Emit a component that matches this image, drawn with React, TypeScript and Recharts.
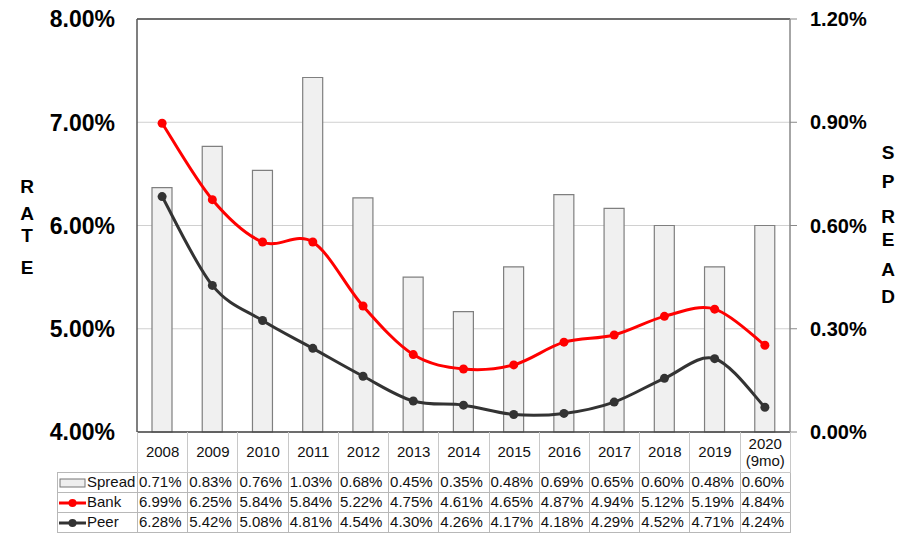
import React from 'react';
import { ComposedChart, Bar, Line, XAxis, YAxis, CartesianGrid, ReferenceLine } from 'recharts';

const years = ['2008', '2009', '2010', '2011', '2012', '2013', '2014', '2015', '2016', '2017', '2018', '2019', '2020 (9mo)'];
const spread = [0.71, 0.83, 0.76, 1.03, 0.68, 0.45, 0.35, 0.48, 0.69, 0.65, 0.6, 0.48, 0.6];
const bank = [6.99, 6.25, 5.84, 5.84, 5.22, 4.75, 4.61, 4.65, 4.87, 4.94, 5.12, 5.19, 4.84];
const peer = [6.28, 5.42, 5.08, 4.81, 4.54, 4.3, 4.26, 4.17, 4.18, 4.29, 4.52, 4.71, 4.24];
const rateTicks = [4, 5, 6, 7, 8];
const spreadTicks = [0, 0.3, 0.6, 0.9, 1.2];

const data = years.map((year, i) => ({ year, spread: spread[i], bank: bank[i], peer: peer[i] }));

const FONT = '"Liberation Sans", Arial, sans-serif';
const BANK_COLOR = '#ff0000';
const PEER_COLOR = '#333333';

// excel-style smoothed line (bezier through points, 1/6 of neighbour span)
const smoothCurve = (context: any) => {
  let pts: number[][] = [];
  return {
    areaStart() {},
    areaEnd() {},
    lineStart() { pts = []; },
    point(x: number, y: number) { pts.push([+x, +y]); },
    lineEnd() {
      if (!pts.length) return;
      context.moveTo(pts[0][0], pts[0][1]);
      for (let i = 0; i < pts.length - 1; i++) {
        const p0 = pts[i - 1] || pts[i];
        const p1 = pts[i];
        const p2 = pts[i + 1];
        const p3 = pts[i + 2] || p2;
        context.bezierCurveTo(
          p1[0] + (p2[0] - p0[0]) / 6, p1[1] + (p2[1] - p0[1]) / 6,
          p2[0] - (p3[0] - p1[0]) / 6, p2[1] - (p3[1] - p1[1]) / 6,
          p2[0], p2[1]
        );
      }
    },
  };
};

const LeftTick = ({ x, y, payload }: any) => (
  <text x={x} y={y} dy="0.36em" textAnchor="end" fontFamily={FONT} fontWeight="bold" fontSize={23} fill="#000">
    {payload.value.toFixed(2)}%
  </text>
);

const RightTick = ({ x, y, payload }: any) => (
  <text x={x} y={y} dy="0.36em" textAnchor="start" fontFamily={FONT} fontWeight="bold" fontSize={20} fill="#000">
    {payload.value.toFixed(2)}%
  </text>
);

const LegendIcon = ({ kind }: { kind: string }) => (
  <svg width={27} height={12} style={{ verticalAlign: 'middle', marginRight: 1 }}>
    {kind === 'spread' ? (
      <rect x={1} y={2} width={25} height={8} fill="#eeeeee" stroke="#777" strokeWidth={1} />
    ) : (
      <g>
        <line x1={0} y1={6} x2={27} y2={6} stroke={kind === 'bank' ? BANK_COLOR : PEER_COLOR} strokeWidth={3} />
        <circle cx={13.5} cy={6} r={4} fill={kind === 'bank' ? BANK_COLOR : PEER_COLOR} />
      </g>
    )}
  </svg>
);

const rows = [
  { kind: 'spread', label: 'Spread', values: spread },
  { kind: 'bank', label: 'Bank', values: bank },
  { kind: 'peer', label: 'Peer', values: peer },
];

const letter = (ch: string, left: number, top: number) => (
  <div key={ch + top} style={{ position: 'absolute', left, top: top - 11, width: 20, textAlign: 'center', fontFamily: FONT, fontWeight: 'bold', fontSize: 19, lineHeight: '22px' }}>
    {ch}
  </div>
);

export default function App() {
  const colW = 653 / years.length;
  const cell: React.CSSProperties = { border: '1px solid #b8b8b8', padding: 0, whiteSpace: 'nowrap', overflow: 'visible' };
  return (
    <div style={{ position: 'absolute', left: 0, top: 0, width: 909, height: 534, background: '#fff', fontFamily: FONT, overflow: 'hidden' }}>
      <ComposedChart width={909} height={472} data={data} margin={{ top: 19, right: 0, bottom: 0, left: 0 }} barSize={20}>
        <CartesianGrid yAxisId="rate" horizontal vertical={false} stroke="#d0d0d0" />
        <XAxis dataKey="year" height={40} tick={false} tickLine={false} axisLine={{ stroke: '#444', strokeWidth: 1.5 }} />
        <YAxis yAxisId="rate" orientation="left" width={137} domain={[4, 8]} ticks={rateTicks} interval={0}
          tickSize={0} tickMargin={22} tickLine={false} axisLine={{ stroke: '#555', strokeWidth: 1.5 }} tick={<LeftTick />} />
        <YAxis yAxisId="spread" orientation="right" width={119} domain={[0, 1.2]} ticks={spreadTicks} interval={0}
          tickSize={7} tickMargin={13} tickLine={{ stroke: '#888' }} axisLine={{ stroke: '#888', strokeWidth: 1.5 }} tick={<RightTick />} />
        <ReferenceLine yAxisId="rate" y={8} stroke="#444" strokeWidth={1.5} />
        <Bar yAxisId="spread" dataKey="spread" fill="#f0f0f0" stroke="#7f7f7f" strokeWidth={1.2} isAnimationActive={false} />
        <Line yAxisId="rate" dataKey="bank" type={smoothCurve as any} stroke={BANK_COLOR} strokeWidth={3}
          dot={{ r: 4.5, fill: BANK_COLOR, stroke: BANK_COLOR, strokeWidth: 0 }} activeDot={false} isAnimationActive={false} />
        <Line yAxisId="rate" dataKey="peer" type={smoothCurve as any} stroke={PEER_COLOR} strokeWidth={3}
          dot={{ r: 4.5, fill: PEER_COLOR, stroke: PEER_COLOR, strokeWidth: 0 }} activeDot={false} isAnimationActive={false} />
      </ComposedChart>

      <table style={{ position: 'absolute', left: 57, top: 432, width: 733, borderCollapse: 'collapse', tableLayout: 'fixed', fontSize: 15, color: '#111' }}>
        <colgroup>
          <col style={{ width: 80 }} />
          {years.map((y) => <col key={y} style={{ width: colW }} />)}
        </colgroup>
        <tbody>
          <tr style={{ height: 40 }}>
            <td style={{ padding: 0, border: 'none' }} />
            {years.map((y) => (
              <td key={y} style={{ ...cell, borderTop: 'none', borderColor: '#c8c8c8', textAlign: 'center', lineHeight: '17px', fontSize: 15 }}>
                {y.split(' ').map((part, i) => <div key={i}>{part}</div>)}
              </td>
            ))}
          </tr>
          {rows.map((r) => (
            <tr key={r.kind} style={{ height: 20 }}>
              <td style={{ ...cell, textAlign: 'left', paddingLeft: 1, lineHeight: '18px' }}>
                <LegendIcon kind={r.kind} />{r.label}
              </td>
              {r.values.map((v, i) => (
                <td key={i} style={{ ...cell, textAlign: 'left', paddingLeft: 1, lineHeight: '18px' }}>{v.toFixed(2)}%</td>
              ))}
            </tr>
          ))}
        </tbody>
      </table>

      {letter('R', 17, 187)}
      {letter('A', 17, 214)}
      {letter('T', 17, 236)}
      {letter('E', 17, 268)}

      {letter('S', 878, 153)}
      {letter('P', 878, 182)}
      {letter('R', 878, 217)}
      {letter('E', 878, 240)}
      {letter('A', 878, 270)}
      {letter('D', 878, 297)}
    </div>
  );
}
